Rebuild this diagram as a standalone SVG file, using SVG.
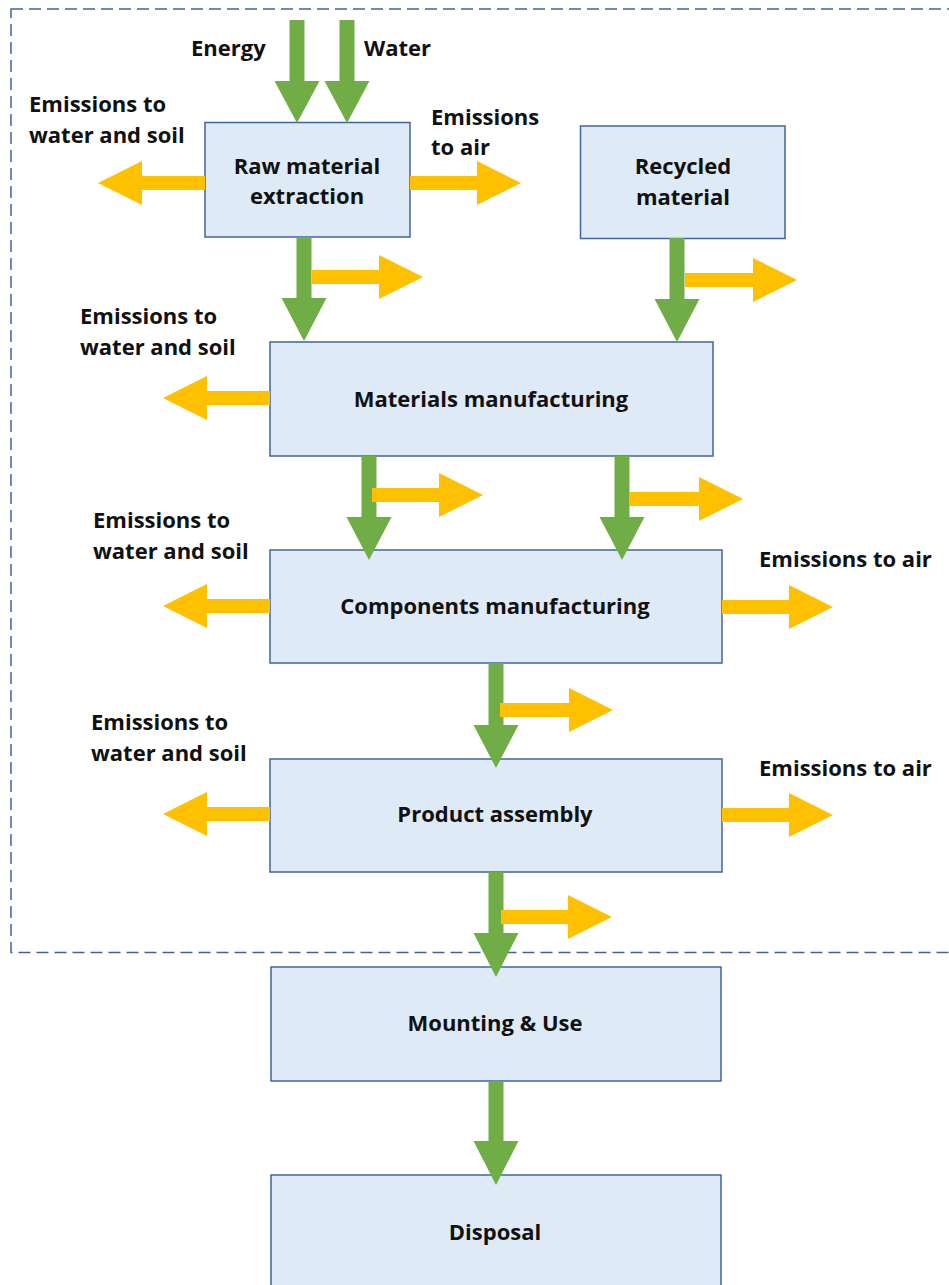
<svg xmlns="http://www.w3.org/2000/svg" width="949" height="1285" viewBox="0 0 949 1285">
  <style>
    .bg { fill: #ffffff; }
    .boundary { fill: none; stroke: #3f62a0; stroke-width: 1.5; stroke-dasharray: 12 6; }
    .box { fill: #deeaf6; stroke: #41649f; stroke-width: 1.5; }
    .flow { fill: #70ad47; }
    .emit { fill: #ffc000; }
    text { font-family: "Open Sans", "Liberation Sans", sans-serif; font-weight: 700; font-size: 22px; fill: #111111; }
    .c { text-anchor: middle; }
  </style>

  <rect class="bg" x="0" y="0" width="949" height="1285"/>

  <!-- system boundary -->
  <rect class="boundary" x="11" y="9" width="960" height="943.5"/>

  <!-- process nodes -->
  <g id="raw-material-extraction">
    <rect class="box" x="205" y="122.5" width="205" height="114.5"/>
    <text class="c" x="307" y="174">Raw material</text>
    <text class="c" x="307" y="204">extraction</text>
  </g>
  <g id="recycled-material">
    <rect class="box" x="580.5" y="126" width="204.5" height="112.5"/>
    <text class="c" x="683" y="174">Recycled</text>
    <text class="c" x="683" y="205">material</text>
  </g>
  <g id="materials-manufacturing">
    <rect class="box" x="270" y="342" width="443" height="114"/>
    <text class="c" x="491" y="407">Materials manufacturing</text>
  </g>
  <g id="components-manufacturing">
    <rect class="box" x="270" y="550" width="452" height="113"/>
    <text class="c" x="495" y="614">Components manufacturing</text>
  </g>
  <g id="product-assembly">
    <rect class="box" x="270" y="759" width="452" height="113"/>
    <text class="c" x="495" y="822">Product assembly</text>
  </g>
  <g id="mounting-use">
    <rect class="box" x="271" y="967" width="450" height="114"/>
    <text class="c" x="495" y="1031">Mounting &amp; Use</text>
  </g>
  <g id="disposal">
    <rect class="box" x="271" y="1175" width="450" height="130"/>
    <text class="c" x="495" y="1240">Disposal</text>
  </g>

  <!-- input / emission labels -->
  <g id="labels">
    <text x="191" y="56">Energy</text>
    <text x="364" y="56">Water</text>
    <text x="29" y="112">Emissions to</text>
    <text x="29" y="143">water and soil</text>
    <text x="431" y="125">Emissions</text>
    <text x="431" y="155">to air</text>
    <text x="80" y="324">Emissions to</text>
    <text x="80" y="355">water and soil</text>
    <text x="93" y="528">Emissions to</text>
    <text x="93" y="559">water and soil</text>
    <text x="759" y="567">Emissions to air</text>
    <text x="91" y="730">Emissions to</text>
    <text x="91" y="761">water and soil</text>
    <text x="759" y="776">Emissions to air</text>
  </g>

  <!-- connectors: material flows (green) and emissions (orange) -->
  <g id="connectors">
    <!-- down arrows: shaft ±7.5, head ±22.5 -->
    <polygon class="flow" points="289.5,20 304.5,20 304.5,81 319.5,81 297,123 274.5,81 289.5,81"/>
    <polygon class="flow" points="339.5,20 354.5,20 354.5,81 369.5,81 347,123 324.5,81 339.5,81"/>
    <polygon class="flow" points="296.5,237 311.5,237 311.5,298 326.5,298 304,341 281.5,298 296.5,298"/>
    <polygon class="flow" points="669.5,238 684.5,238 684.5,299 699.5,299 677,342 654.5,299 669.5,299"/>
    <polygon class="flow" points="361.5,456 376.5,456 376.5,517 391.5,517 369,560 346.5,517 361.5,517"/>
    <polygon class="flow" points="614.5,456 629.5,456 629.5,517 644.5,517 622,560 599.5,517 614.5,517"/>
    <polygon class="flow" points="488.5,663 503.5,663 503.5,725 518.5,725 496,768 473.5,725 488.5,725"/>
    <polygon class="flow" points="488.5,872 503.5,872 503.5,933 518.5,933 496,977 473.5,933 488.5,933"/>
    <polygon class="flow" points="488.5,1081 503.5,1081 503.5,1141 518.5,1141 496,1185 473.5,1141 488.5,1141"/>

    <!-- emission arrows: shaft ±7, head ±22, head length 44 -->
    <polygon class="emit" points="205,176 142,176 142,161 98,183 142,205 142,190 205,190"/>
    <polygon class="emit" points="410,176 477,176 477,161 521,183 477,205 477,190 410,190"/>
    <polygon class="emit" points="312,270 379,270 379,255 423,277 379,299 379,284 312,284"/>
    <polygon class="emit" points="685,273 753,273 753,258 797,280 753,302 753,287 685,287"/>
    <polygon class="emit" points="270,391 207,391 207,376 163,398 207,420 207,405 270,405"/>
    <polygon class="emit" points="372,488 439,488 439,473 483,495 439,517 439,502 372,502"/>
    <polygon class="emit" points="629,492 699,492 699,477 743,499 699,521 699,506 629,506"/>
    <polygon class="emit" points="270,599 207,599 207,584 163,606 207,628 207,613 270,613"/>
    <polygon class="emit" points="722,600 789,600 789,585 833,607 789,629 789,614 722,614"/>
    <polygon class="emit" points="500,703 569,703 569,688 613,710 569,732 569,717 500,717"/>
    <polygon class="emit" points="270,807 207,807 207,792 163,814 207,836 207,821 270,821"/>
    <polygon class="emit" points="722,808 789,808 789,793 833,815 789,837 789,822 722,822"/>
    <polygon class="emit" points="501,910 568,910 568,895 612,917 568,939 568,924 501,924"/>
  </g>
</svg>
